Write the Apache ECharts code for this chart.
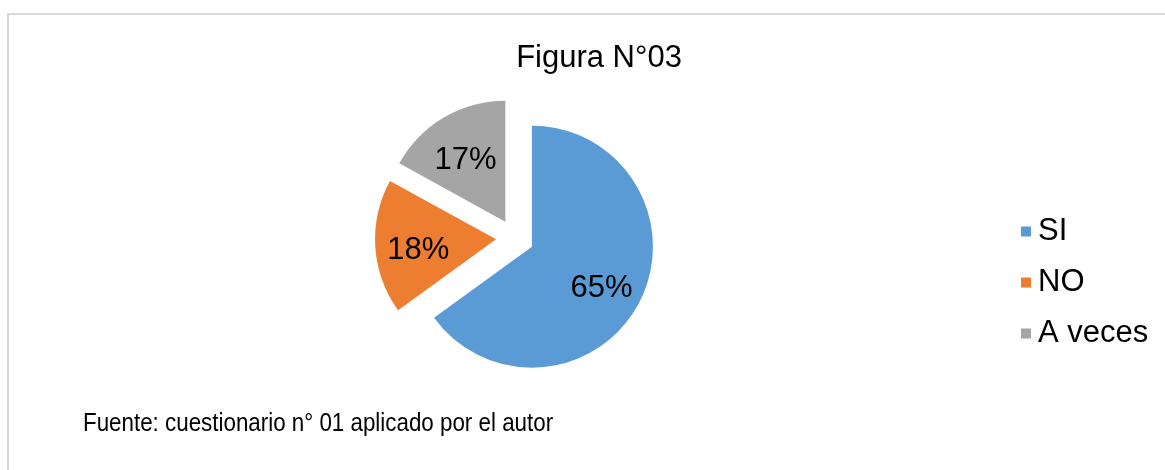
<!DOCTYPE html>
<html>
<head>
<meta charset="utf-8">
<script src="https://cdn.jsdelivr.net/npm/echarts@6/dist/echarts.min.js"></script>
<style>
  html, body { margin: 0; padding: 0; background: #fff; }
  #chart { width: 1165px; height: 470px; }
</style>
</head>
<body>
<div id="chart"></div>
<script>
// datos
let categories = ['SI', 'NO', 'A veces'];
let values = [65, 18, 17];
let colors = ['#5B9BD5', '#ED7D31', '#A5A5A5'];

let font = 'Liberation Sans, Arial, sans-serif';

// cada porción sale separada del centro (como en Excel)
let pieData = categories.map(function (name, i) {
  return {
    name: name,
    value: values[i],
    selected: true,
    itemStyle: { color: colors[i] },
    select: { itemStyle: { color: colors[i] } }
  };
});

let myChart = echarts.init(document.getElementById('chart'));

let option = {
  animation: false,
  title: {
    text: 'Figura N°03',
    left: 594,
    textAlign: 'center',
    top: 38,
    textStyle: { fontFamily: font, fontSize: 31, fontWeight: 'normal', color: '#000' }
  },
  legend: {
    data: categories,
    orient: 'vertical',
    left: 1016,
    top: 211,
    itemWidth: 10,
    itemHeight: 10,
    itemGap: 20,
    icon: 'rect',
    selectedMode: false,
    textStyle: { fontFamily: font, fontSize: 31, color: '#000', lineHeight: 30, padding: [0, 0, 0, 2] }
  },
  graphic: [
    {
      type: 'rect',
      shape: { x: 8, y: 14, width: 1300, height: 600 },
      style: { fill: 'none', stroke: '#d9d9d9', lineWidth: 2 },
      silent: true
    },
    {
      // la fuente original es algo más angosta, se comprime en x
      type: 'text',
      x: 83,
      y: 411,
      scaleX: 0.86,
      style: { text: 'Fuente: cuestionario n° 01 aplicado por el autor', font: '26px ' + font, fill: '#000' }
    }
  ],
  series: [
    {
      name: 'Figura',
      type: 'pie',
      center: [515, 238],
      radius: 121,
      startAngle: 90,
      clockwise: true,
      selectedMode: 'multiple',
      selectedOffset: 19,
      silent: true,
      label: { show: false },
      labelLine: { show: false },
      data: pieData
    },
    {
      // solo etiquetas, un poco más afuera que el centro de la porción
      name: 'Etiquetas',
      type: 'pie',
      center: [515, 238],
      radius: 150,
      startAngle: 90,
      clockwise: true,
      selectedMode: 'multiple',
      selectedOffset: 19,
      silent: true,
      itemStyle: { color: 'rgba(0,0,0,0)' },
      select: { itemStyle: { color: 'rgba(0,0,0,0)' } },
      label: {
        show: true,
        position: 'inside',
        formatter: '{d}%',
        fontFamily: font,
        fontSize: 31,
        color: '#000'
      },
      labelLayout: { dx: 0, dy: 6 },
      labelLine: { show: false },
      data: categories.map(function (name, i) {
        return { name: name, value: values[i], selected: true };
      })
    }
  ]
};

myChart.setOption(option);
</script>
</body>
</html>
